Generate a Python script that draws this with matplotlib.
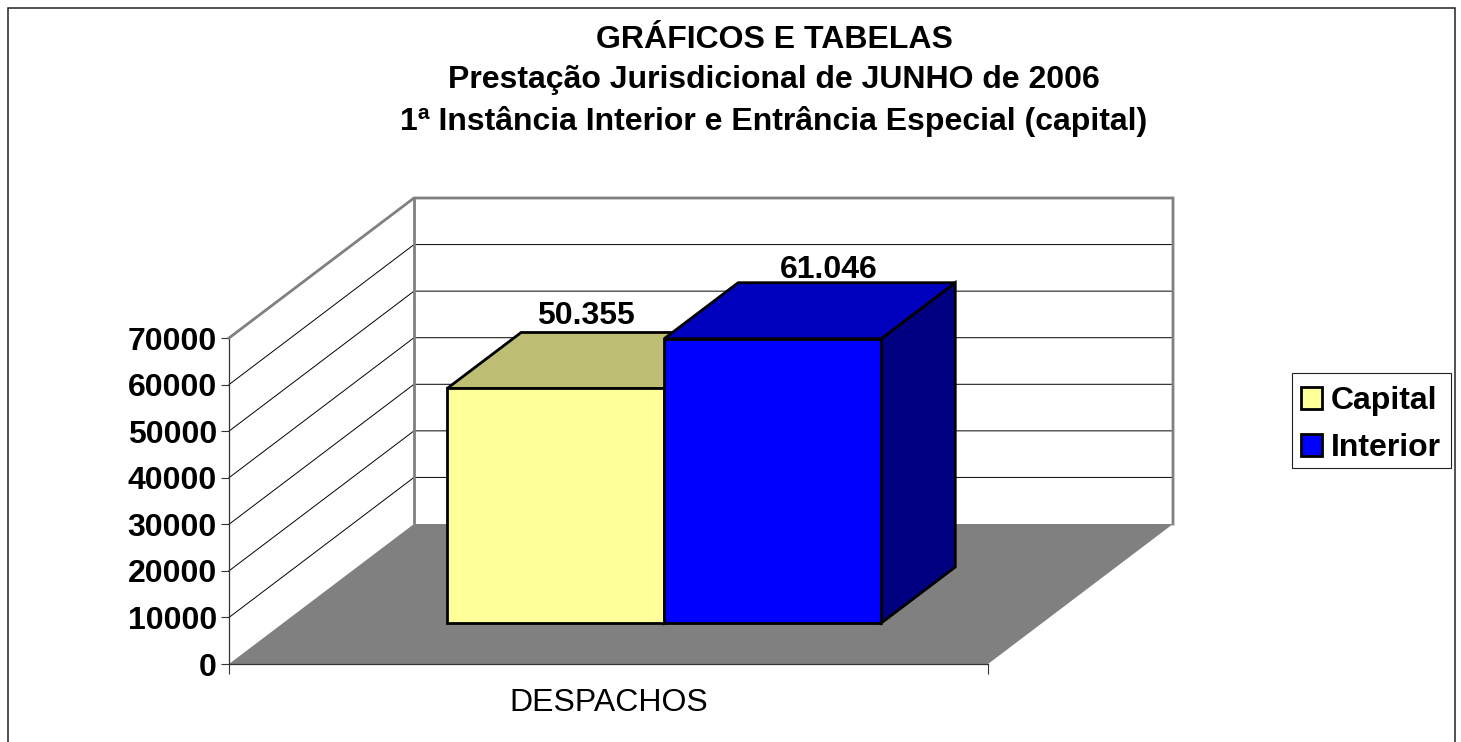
import matplotlib
matplotlib.use("Agg")
import matplotlib.pyplot as plt
from matplotlib.patches import Polygon, Patch, Rectangle

plt.rcParams['font.family'] = ['Liberation Sans', 'DejaVu Sans']

title_lines = ["GRÁFICOS E TABELAS",
               "Prestação Jurisdicional de JUNHO de 2006",
               "1ª Instância Interior e Entrância Especial (capital)"]
category = "DESPACHOS"
series = ["Capital", "Interior"]
values = [50355, 61046]
value_labels = ["50.355", "61.046"]
y_ticks = [0, 10000, 20000, 30000, 40000, 50000, 60000, 70000]

W, H = 1461, 742
fig = plt.figure(figsize=(W / 100, H / 100), dpi=100, facecolor="white")

def px_box(l, t, r, b):
    return [l / W, 1 - b / H, (r - l) / W, (b - t) / H]

# outer frame
fig.add_artist(Rectangle((7.5 / W, -0.02), (1455 - 7.5) / W, 1.02 - 7.5 / H,
                         transform=fig.transFigure, fill=False, ec="#222222", lw=1.1))

ax = fig.add_axes(px_box(229, 338, 988, 664))
ax.set_xlim(0, 1)
ax.set_ylim(0, 70000)
ax.patch.set_visible(False)
for s in ("top", "right"):
    ax.spines[s].set_visible(False)
for s in ("left", "bottom"):
    ax.spines[s].set_color("#333333")
    ax.spines[s].set_linewidth(0.9)
ax.set_yticks(y_ticks)
ax.set_xticks([0, 1])
ax.set_xticklabels(["", ""])
ax.set_xticks([0.5], [category], minor=True)
ax.tick_params(axis="x", which="minor", length=0, labelsize=23, pad=17)
ax.tick_params(axis="x", which="major", length=7.5, width=0.8, color="#333333")
ax.tick_params(axis="y", length=5.5, width=0.8, color="#333333", labelsize=23, pad=3.2)
for t in ax.get_yticklabels():
    t.set_fontweight("bold")

DX = 185 / 759      # full depth, in axis units
DY = 140 / 326 * 70000

def proj(x, y, d):
    return (x + d * DX, y + d * DY)

def poly(pts, **kw):
    p = Polygon(pts, closed=True, clip_on=False, **kw)
    ax.add_patch(p)

# floor
poly([proj(0, 0, 0), proj(1, 0, 0), proj(1, 0, 1), proj(0, 0, 1)], fc="#808080", ec="none", zorder=1)

# grid on side and back walls
for v in y_ticks[1:-1]:
    ax.plot(*zip(proj(0, v, 0), proj(0, v, 1), proj(1, v, 1)), color="black", lw=0.7,
            clip_on=False, zorder=2)

# wall edges
grey = dict(color="#808080", lw=2.0, clip_on=False, zorder=3, solid_joinstyle="miter")
ax.plot(*zip(proj(0, 70000, 0), proj(0, 70000, 1), proj(1, 70000, 1), proj(1, 0, 1)), **grey)
ax.plot(*zip(proj(0, 70000, 1), proj(0, 0, 1)), **grey)

# bars
front_cols = ["#FFFF99", "#0000FF"]
top_cols = ["#BDBD73", "#0000BF"]
side_cols = ["#BFBF73", "#000080"]
x_left = 0.216
bar_w = 0.286
d0 = 41 / 140
d1 = d0 + 56 / 140
edge = dict(ec="black", lw=2.0, joinstyle="miter")
label_off = [(-7, 44), (19, 41)]
for i, val in enumerate(values):
    x0 = x_left + i * bar_w
    x1 = x0 + bar_w
    z = 5 + i
    poly([proj(x1, 0, d0), proj(x1, val, d0), proj(x1, val, d1), proj(x1, 0, d1)],
         fc=side_cols[i], zorder=z, **edge)
    poly([proj(x0, val, d0), proj(x1, val, d0), proj(x1, val, d1), proj(x0, val, d1)],
         fc=top_cols[i], zorder=z, **edge)
    poly([proj(x0, 0, d0), proj(x1, 0, d0), proj(x1, val, d0), proj(x0, val, d0)],
         fc=front_cols[i], zorder=z, **edge)
    ax.annotate(value_labels[i], xy=proj((x0 + x1) / 2, val, (d0 + d1) / 2),
                xytext=label_off[i], textcoords="offset pixels", ha="center", va="center",
                fontsize=23, fontweight="bold", zorder=10, annotation_clip=False)

fig.text(774 / W, 1 - 81 / H, "\n".join(title_lines), ha="center", va="center",
         fontsize=23, fontweight="bold", linespacing=1.455)

# legend box
fig.add_artist(Rectangle((1291.5 / W, 1 - 468 / H), 159.5 / W, 95 / H, transform=fig.transFigure,
                         fc="white", ec="#222222", lw=0.8))
handles = [Patch(fc=front_cols[i], ec="black", lw=2.0, label=series[i]) for i in range(2)]
leg = fig.legend(handles=handles, loc="lower left",
                 bbox_to_anchor=(1292 / W, 1 - 472 / H, 160 / W, 91 / H),
                 mode="expand", borderaxespad=0, frameon=False,
                 prop=dict(size=23, weight="bold"), handlelength=0.66, handleheight=0.66,
                 handletextpad=0.28, labelspacing=0.52, borderpad=0.28)

fig.savefig("out.png", dpi=100)
